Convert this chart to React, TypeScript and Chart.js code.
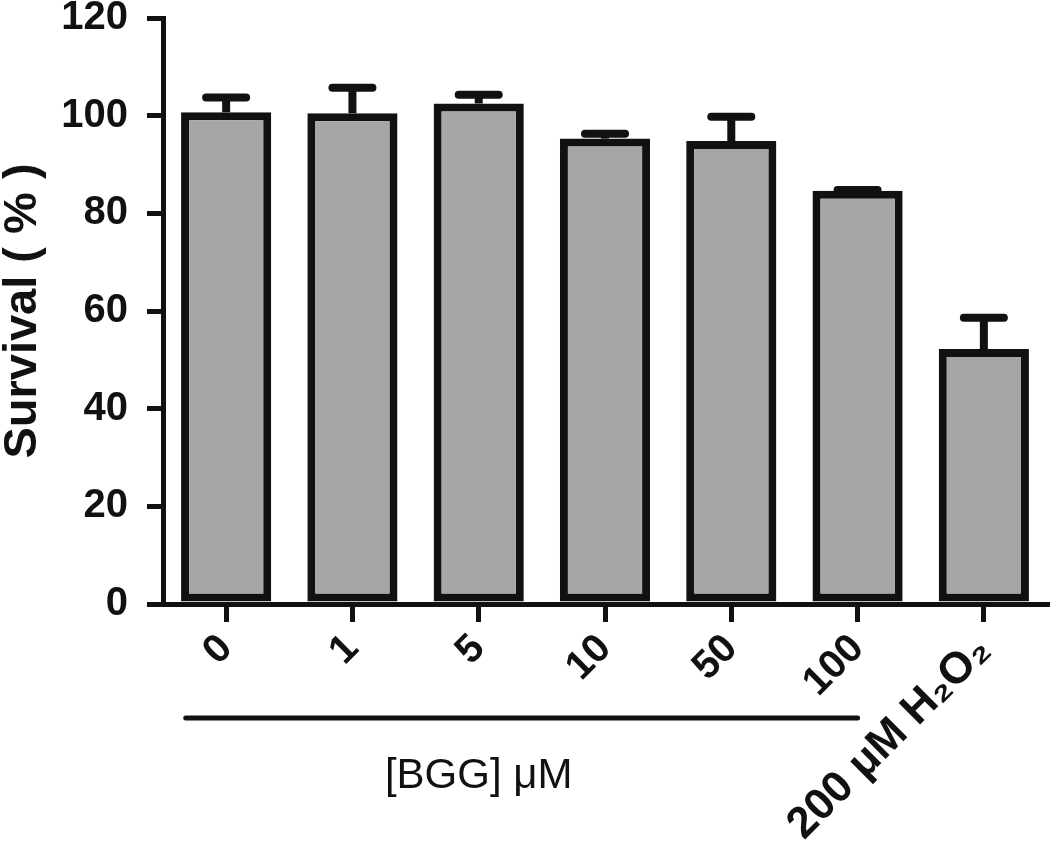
import React, { useEffect, useRef } from "react";
import { Chart, registerables } from "chart.js";

Chart.register(...registerables);

const categories = ["0", "1", "5", "10", "50", "100", "200 μM H₂O₂"];
const survival = [100.7, 100.5, 102.5, 95.3, 94.8, 84.6, 52.2];
const errorUp = [3.0, 5.2, 1.8, 1.0, 5.0, 0.2, 6.4];
const yTicks = [0, 20, 40, 60, 80, 100, 120];
const groupLabel = "[BGG] μM";
const groupFirst = 0;
const groupLast = 5;
const groupLabelAt = 2;

const FONT = "'Liberation Sans', Arial, Helvetica, sans-serif";
const INK = "#111111";

const errorBarPlugin = {
  id: "errorBars",
  afterDatasetsDraw(chart: any) {
    const meta = chart.getDatasetMeta(0);
    const y = chart.scales.y;
    const ctx = chart.ctx;
    ctx.save();
    ctx.strokeStyle = INK;
    ctx.lineWidth = 8;
    meta.data.forEach((bar: any, i: number) => {
      const top = y.getPixelForValue(survival[i]);
      const end = y.getPixelForValue(survival[i] + errorUp[i]);
      ctx.beginPath();
      ctx.lineCap = "butt";
      ctx.moveTo(bar.x, top);
      ctx.lineTo(bar.x, end);
      ctx.stroke();
      ctx.beginPath();
      ctx.lineCap = "round";
      ctx.moveTo(bar.x - 20, end);
      ctx.lineTo(bar.x + 20, end);
      ctx.stroke();
    });
    ctx.restore();
  },
};

const groupPlugin = {
  id: "groupBracket",
  afterDraw(chart: any) {
    const x = chart.scales.x;
    const area = chart.chartArea;
    const ctx = chart.ctx;
    const step = x.getPixelForValue(1) - x.getPixelForValue(0);
    const x1 = x.getPixelForValue(groupFirst) - step * 0.32;
    const x2 = x.getPixelForValue(groupLast);
    const ly = area.bottom + 114;
    ctx.save();
    ctx.strokeStyle = INK;
    ctx.lineWidth = 5;
    ctx.lineCap = "round";
    ctx.beginPath();
    ctx.moveTo(x1, ly);
    ctx.lineTo(x2, ly);
    ctx.stroke();
    ctx.fillStyle = INK;
    ctx.font = `normal 42px ${FONT}`;
    ctx.textAlign = "center";
    ctx.textBaseline = "middle";
    ctx.fillText(groupLabel, x.getPixelForValue(groupLabelAt), area.bottom + 172);
    ctx.restore();
  },
};

export default function App() {
  const ref = useRef<HTMLCanvasElement | null>(null);

  useEffect(() => {
    document.body.style.margin = "0";
    const canvas = ref.current;
    if (!canvas) return;
    const chart = new Chart(canvas, {
      type: "bar",
      data: {
        labels: categories,
        datasets: [
          {
            data: survival,
            backgroundColor: "#a6a6a6",
            borderColor: INK,
            borderWidth: 8,
            borderSkipped: false,
            categoryPercentage: 1,
            barPercentage: 0.714,
          },
        ],
      },
      options: {
        responsive: false,
        animation: false,
        layout: { padding: { top: 18, right: 3, left: 0, bottom: 0 } },
        plugins: {
          legend: { display: false },
          tooltip: { enabled: false },
        },
        scales: {
          x: {
            offset: true,
            grid: {
              display: true,
              offset: false,
              drawOnChartArea: false,
              drawTicks: true,
              tickLength: 18,
              lineWidth: 5,
              color: INK,
            },
            border: { display: true, width: 5, color: INK },
            ticks: {
              maxRotation: 45,
              minRotation: 45,
              autoSkip: false,
              padding: 6,
              color: INK,
              font: (ctx: any) => ({
                family: FONT,
                size: ctx.index === categories.length - 1 ? 44 : 40,
                weight: "bold",
                lineHeight: 1,
              }),
            },
            afterFit(scale: any) {
              scale.height = 240;
            },
          },
          y: {
            min: 0,
            max: 120,
            afterBuildTicks(scale: any) {
              scale.ticks = yTicks.map((v) => ({ value: v }));
            },
            grid: {
              display: true,
              drawOnChartArea: false,
              drawTicks: true,
              tickLength: 16,
              lineWidth: 5,
              color: INK,
            },
            border: { display: true, width: 5, color: INK },
            ticks: {
              padding: 19,
              color: INK,
              font: { family: FONT, size: 40, weight: "bold", lineHeight: 0.9 },
            },
            title: {
              display: true,
              text: "Survival ( % )",
              color: INK,
              padding: 0,
              font: { family: FONT, size: 47, weight: "bold", lineHeight: 1 },
            },
            afterFit(scale: any) {
              scale.width = 163;
              scale.paddingTop = 0;
              scale.paddingBottom = 0;
            },
          },
        },
      },
      plugins: [errorBarPlugin, groupPlugin],
    });
    return () => chart.destroy();
  }, []);

  return (
    <div style={{ width: 1050, height: 844 }}>
      <canvas ref={ref} width={1050} height={844} style={{ display: "block" }} />
    </div>
  );
}
